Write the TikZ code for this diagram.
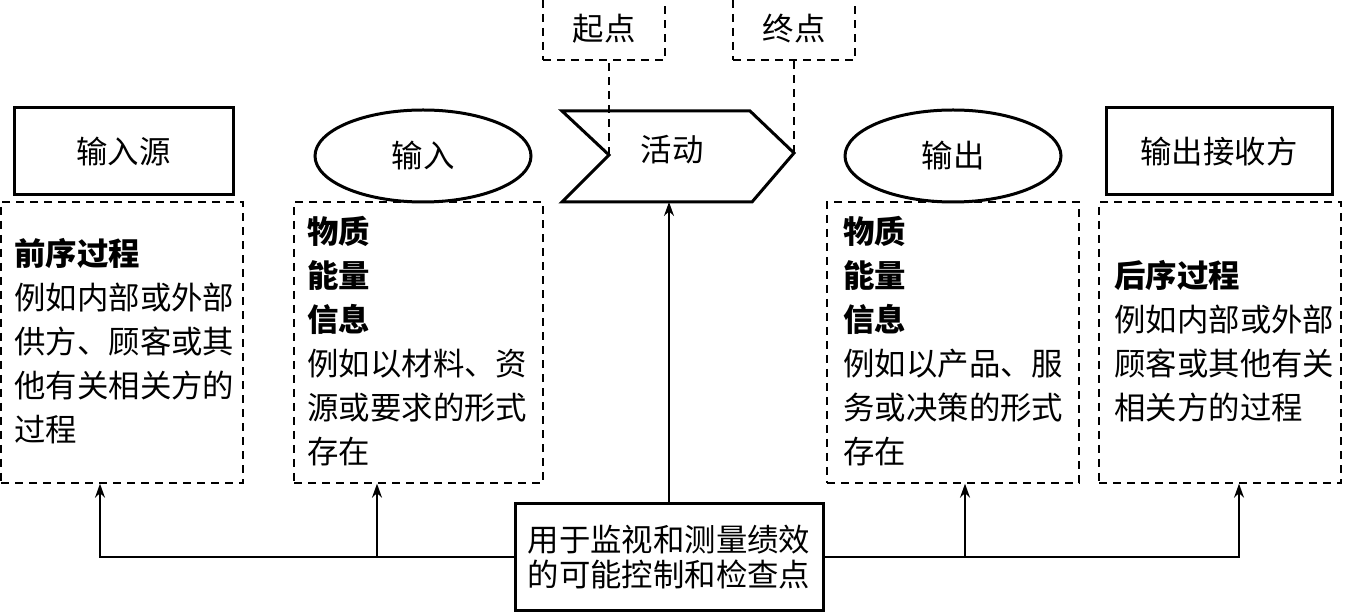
\documentclass[tikz,border=0pt]{standalone}
\usepackage{fontspec}
\setmainfont{Noto Sans CJK SC}
\usetikzlibrary{arrows.meta,shapes.geometric}
\begin{document}
\begin{tikzpicture}[x=0.5pt,y=-0.5pt,
  txt/.style={font=\fontsize{15.7}{22}\selectfont},
  thickbox/.style={draw, line width=1.5pt, inner sep=0pt, minimum height=43.5pt, txt},
  dbox/.style={draw, dash pattern=on 4pt off 3pt, line width=0.7pt, inner sep=0pt, txt},
  oval/.style={draw, ellipse, line width=1.5pt, minimum width=108pt, minimum height=46pt, inner sep=0pt, txt},
  body/.style={txt, inner sep=0pt, align=left, anchor=west},
  conn/.style={line width=0.75pt},
  dline/.style={line width=0.7pt, dash pattern=on 4pt off 3pt},
  arr/.style={conn, -{Stealth[length=7pt,width=5pt]}}
]
\useasboundingbox (0,0) rectangle (1347,613);

% top dashed boxes
\node[dbox, minimum width=61pt, minimum height=31pt] (s) at (604,29) {起点};
\node[dbox, minimum width=61pt, minimum height=31pt] (e) at (794,29) {终点};

% activity shape
\coordinate (a1) at (562,111);
\coordinate (a2) at (750,111);
\coordinate (tip) at (794,153);
\coordinate (a4) at (752,202);
\coordinate (a5) at (562,202);
\coordinate (notch) at (609,155);
\draw[dline] (notch) -- (notch |- s.south);
\draw[dline] (tip) -- (tip |- e.south);
\draw[line width=1.5pt, line join=miter] (a1) -- (a2) -- (tip) -- (a4) -- (a5) -- (notch) -- cycle;
\node[txt, inner sep=0pt] (act) at (672,150) {活动};

% header shapes
\node[thickbox, minimum width=109.5pt] (src) at (123.5,151.5) {输入源};
\node[oval] (in) at (423,156) {输入};
\node[oval] (out) at (953,156) {输出};
\node[thickbox, minimum width=113pt] (rcv) at (1219,151.5) {输出接收方};

% dashed content boxes
\node[dbox, minimum width=121pt, minimum height=140.5pt] (d1) at (122,342.5) {};
\node[dbox, minimum width=124.5pt, minimum height=140.5pt] (d2) at (418.5,342.5) {};
\node[dbox, minimum width=126pt, minimum height=140.5pt] (d3) at (953,342.5) {};
\node[dbox, minimum width=121pt, minimum height=140.5pt] (d4) at (1220,342.5) {};

\node[body] (t1) at (14,341) {{\bfseries 前序过程}\\例如内部或外部\\供方、顾客或其\\他有关相关方的\\过程};
\node[body] (t2) at (307,341) {{\bfseries 物质}\\{\bfseries 能量}\\{\bfseries 信息}\\例如以材料、资\\源或要求的形式\\存在};
\node[body] (t3) at (843,341) {{\bfseries 物质}\\{\bfseries 能量}\\{\bfseries 信息}\\例如以产品、服\\务或决策的形式\\存在};
\node[body] (t4) at (1114,341) {{\bfseries 后序过程}\\例如内部或外部\\顾客或其他有关\\相关方的过程};

% control box
\node[draw, line width=1.5pt, minimum width=154pt, minimum height=53pt, inner sep=0pt, align=center,
      font=\fontsize{15.7}{17.5}\selectfont] (cb) at (669,557) {用于监视和测量绩效\\的可能控制和检查点};

\coordinate (actb) at (669,202);
\coordinate (j1) at (100,557);
\coordinate (j2) at (377,557);
\coordinate (j3) at (965,557);
\coordinate (j4) at (1239,557);

\draw[arr] (cb.north) -- (actb);
\draw[arr] (cb.west) -| (j1 |- d1.south);
\draw[arr] (j2) -- (j2 |- d2.south);
\draw[arr] (cb.east) -| (j4 |- d4.south);
\draw[arr] (j3) -- (j3 |- d3.south);
\end{tikzpicture}
\end{document}
